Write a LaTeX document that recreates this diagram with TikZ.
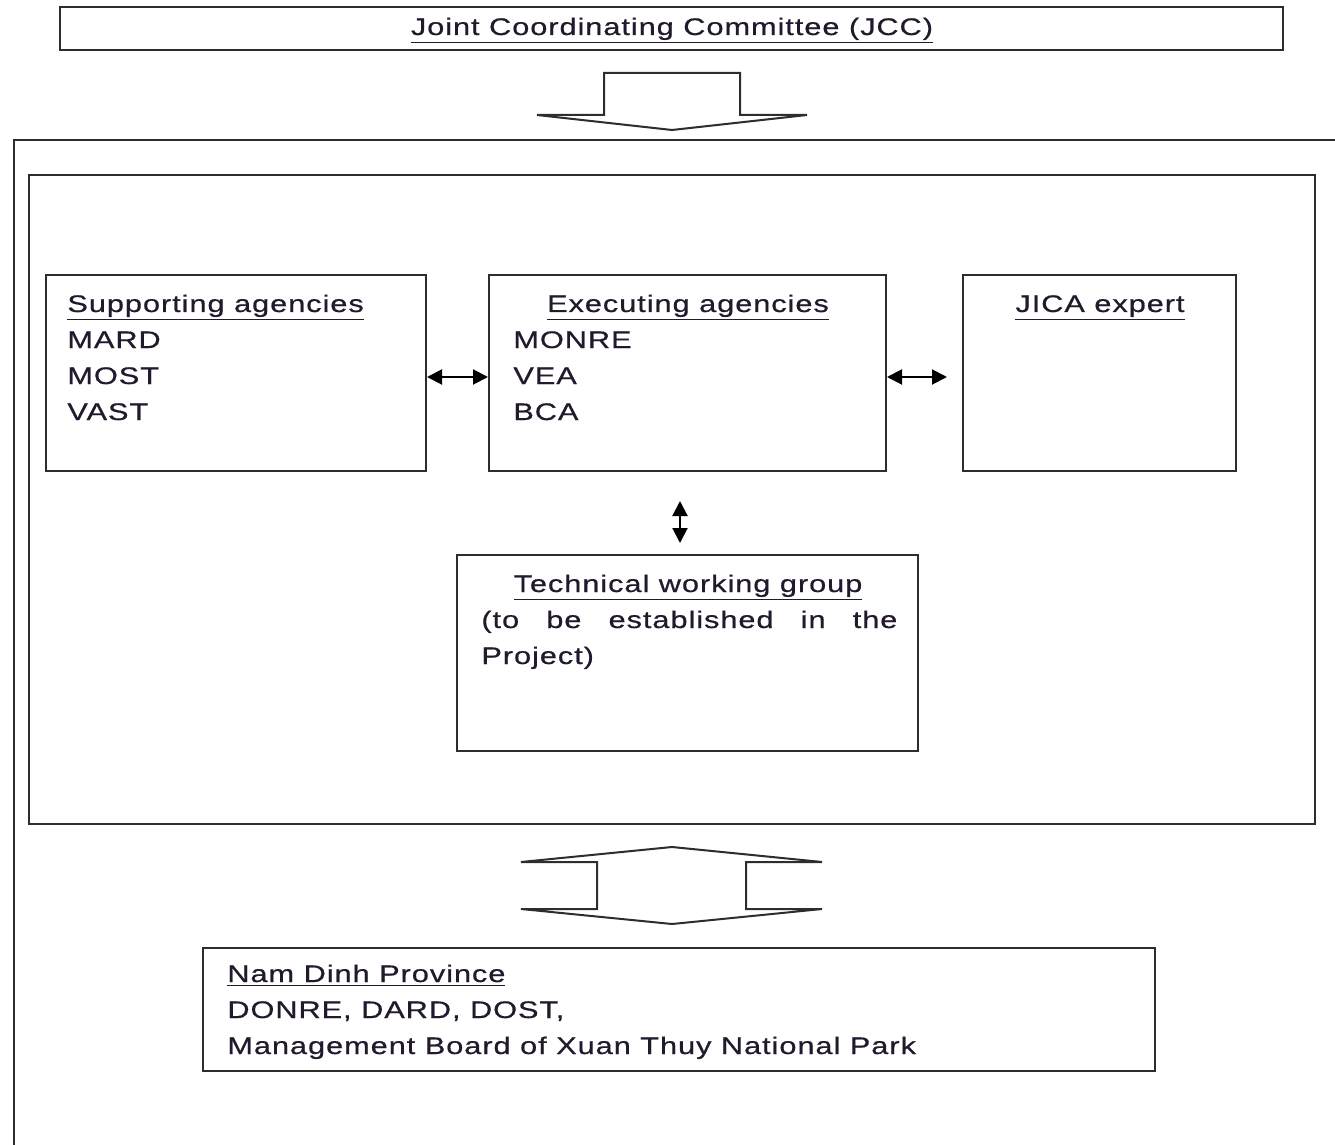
\documentclass[tikz,border=0pt]{standalone}
\usepackage{fontspec}
\setmainfont{Liberation Sans}[FakeStretch=1.28,LetterSpace=4,FakeBold=0.6]
\usetikzlibrary{arrows.meta,positioning,fit}
\definecolor{linegray}{RGB}{45,45,45}
\definecolor{textdark}{RGB}{35,25,45}
\tikzset{
  orgbox/.style={draw=linegray,line width=1pt,inner sep=0pt},
  headtext/.style={font=\fontsize{12}{14}\selectfont,text=textdark,inner sep=0pt,anchor=base},
  itemtext/.style={font=\fontsize{12}{14}\selectfont,text=textdark,inner sep=0pt,anchor=base west},
  linkarrow/.style={{Triangle[length=7.5pt,width=7.5pt]}-{Triangle[length=7.5pt,width=7.5pt]},line width=1pt,draw=black},
  blockarrow/.style={draw=linegray,line width=1pt,line join=miter,fill=white},
}

\begin{document}
\begin{tikzpicture}[x=0.5pt,y=-0.5pt]
    \useasboundingbox (0,0) rectangle (1335,1145);
    % committee on top
    \node[orgbox,fit={(60,7) (1283,50)}] (jcc) {};
    \node[headtext] (jcctitle) at (672,35) {\underline{Joint Coordinating Committee (JCC)}};
    \draw[blockarrow] (604,115) -- (604,73) -- (740,73) -- (740,115) -- (807,115)
      -- (672,130) -- (537,115) -- cycle;

    % outer frame, runs off the page
    \draw[linegray,line width=1pt] (1340,140) -- (14,140) -- (14,1150);
    \node[orgbox,fit={(29,175) (1315,824)}] (inner) {};

    % agencies
    \node[orgbox,fit={(46,275) (426,471)}] (sup) {};
    \node[orgbox,fit={(489,275) (886,471)}] (exe) {};
    \node[orgbox,fit={(963,275) (1236,471)}] (jica) {};
    \node[orgbox,fit={(457,555) (918,751)}] (tech) {};

    \node[itemtext] (suptitle) at (67,312) {\underline{Supporting agencies}};
    \node[itemtext] (mard) at (67,348) {MARD};
    \node[itemtext] (most) at (67,384) {MOST};
    \node[itemtext] (vast) at (67,420) {VAST};

    \node[headtext] (exetitle) at (688,312) {\underline{Executing agencies}};
    \node[itemtext] (monre) at (513,348) {MONRE};
    \node[itemtext] (vea) at (513,384) {VEA};
    \node[itemtext] (bca) at (513,420) {BCA};

    \node[headtext] (jicatitle) at (1100,312) {\underline{JICA expert}};

    \node[headtext] (techtitle) at (688,592) {\underline{Technical working group}};
    \node[itemtext] (techa) at (481,628) {\makebox[208pt][s]{(to be established in the}};
    \node[itemtext] (techb) at (481,664) {Project)};

    \draw[linkarrow] ([yshift=-2pt]sup.east) -- ([yshift=-2pt]exe.west);
    \draw[linkarrow,shorten >=7.5pt] ([yshift=-2pt]exe.east) -- ([yshift=-2pt]jica.west);
    \draw[linkarrow,shorten <=14.5pt,shorten >=5.5pt] ([xshift=-3.75pt]exe.south) -- ([xshift=-3.75pt]tech.north);

    % link to the province
    \draw[blockarrow] (521,862) -- (672,847) -- (822,862) -- (746,862) -- (746,909)
      -- (822,909) -- (672,924) -- (521,909) -- (597,909) -- (597,862) -- cycle;

    \node[orgbox,fit={(203,948) (1155,1071)}] (nam) {};
    \node[itemtext] (namtitle) at (227,982) {\underline{Nam Dinh Province}};
    \node[itemtext] (namdept) at (227,1018) {DONRE, DARD, DOST,};
    \node[itemtext] (nampark) at (227,1054) {Management Board of Xuan Thuy National Park};
  \end{tikzpicture}
\end{document}
